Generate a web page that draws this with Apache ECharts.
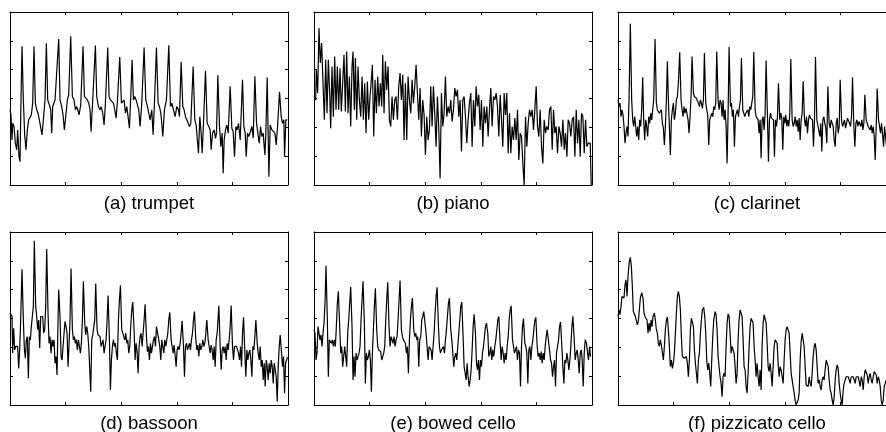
<!DOCTYPE html>
<html>
<head>
<meta charset="utf-8">
<script src="https://cdn.jsdelivr.net/npm/echarts@6/dist/echarts.min.js"></script>
<style>html,body{margin:0;padding:0;background:#fff}#c{width:886px;height:432px}</style>
</head>
<body>
<div id="c"></div>
<script>
// Panel titles
const titles = ['(a) trumpet', '(b) piano', '(c) clarinet', '(d) bassoon', '(e) bowed cello', '(f) pizzicato cello'];
// Axis ranges (frequency in Hz, level in dB) and tick intervals
const xRange = [0, 5000], xStep = 1000;
const yRange = [0, 60], yStep = 10;

// Spectra: [frequency, level]
const trumpet = [[0,26.1],[18,24.3],[36,15.6],[48,21.4],[72,20.3],[96,14.5],[120,12.2],[138,19.1],[162,9.8],[180,8.1],[198,29.5],[216,48.1],[240,29.5],[264,17.4],[288,12.2],[312,19.1],[336,22.6],[360,23.2],[384,24.3],[408,28.4],[432,48.1],[456,28.4],[480,26.1],[504,24.9],[528,22.6],[552,22.0],[576,17.4],[600,22.6],[630,29.5],[654,49.2],[678,29.5],[708,27.8],[732,26.1],[750,18.0],[768,27.2],[810,29.5],[840,30.1],[876,50.6],[900,29.5],[930,27.2],[954,24.3],[978,19.1],[1002,23.7],[1032,29.5],[1056,31.3],[1092,51.6],[1122,30.7],[1152,29.5],[1176,26.1],[1200,27.2],[1218,26.1],[1242,24.3],[1272,27.8],[1314,48.1],[1338,30.7],[1362,30.1],[1392,29.5],[1416,28.4],[1440,26.1],[1458,18.5],[1488,29.5],[1536,48.4],[1560,30.7],[1590,27.2],[1620,26.1],[1638,27.2],[1668,24.9],[1692,20.8],[1716,28.4],[1758,47.7],[1782,30.7],[1806,29.5],[1836,30.1],[1860,28.4],[1884,26.1],[1908,23.2],[1932,29.0],[1974,44.4],[2004,28.4],[2028,27.8],[2052,29.5],[2076,24.9],[2100,27.2],[2124,23.7],[2148,19.7],[2172,30.7],[2196,43.4],[2220,29.5],[2244,30.7],[2268,29.5],[2292,27.8],[2316,26.1],[2340,20.3],[2370,28.4],[2412,47.7],[2442,29.5],[2472,27.2],[2496,24.9],[2520,22.6],[2550,26.1],[2574,17.4],[2598,28.4],[2634,47.7],[2664,28.4],[2688,27.2],[2712,24.9],[2730,21.4],[2748,16.8],[2778,26.1],[2814,29.5],[2856,48.5],[2886,27.2],[2910,28.4],[2940,26.1],[2970,23.7],[3000,27.2],[3030,26.1],[3048,23.7],[3078,42.7],[3108,27.2],[3132,26.1],[3156,23.7],[3180,22.6],[3204,21.4],[3228,20.3],[3252,21.4],[3294,41.1],[3324,22.6],[3348,20.8],[3372,20.3],[3390,11.0],[3414,23.7],[3438,18.0],[3456,11.0],[3480,21.4],[3516,39.6],[3546,21.4],[3576,20.3],[3600,19.1],[3618,12.2],[3642,18.0],[3672,19.1],[3696,16.2],[3714,18.0],[3738,38.1],[3768,20.3],[3792,13.3],[3816,18.0],[3834,4.1],[3852,15.6],[3876,19.1],[3900,20.8],[3924,18.0],[3960,34.2],[3990,19.7],[4014,18.5],[4038,9.8],[4062,20.3],[4086,19.1],[4110,21.4],[4140,15.6],[4182,36.5],[4206,20.3],[4230,18.0],[4248,9.8],[4272,18.0],[4296,16.8],[4320,17.4],[4350,20.3],[4374,16.2],[4404,37.7],[4434,21.4],[4458,18.0],[4482,14.5],[4506,20.3],[4530,16.8],[4554,18.0],[4584,10.4],[4602,18.0],[4626,37.3],[4656,2.9],[4680,20.8],[4710,19.1],[4740,18.5],[4764,18.0],[4788,13.9],[4812,20.3],[4848,32.3],[4878,23.7],[4902,21.4],[4926,22.6],[4938,9.8],[4962,22.6],[4986,22.6]];

const piano = [[0,30.7],[30,29.5],[42,40.0],[66,31.9],[90,54.4],[114,42.3],[138,49.2],[162,35.3],[186,22.6],[210,43.4],[234,24.9],[258,43.4],[282,31.9],[300,19.7],[324,41.1],[348,23.7],[372,44.6],[396,26.1],[420,41.1],[444,26.1],[468,40.5],[492,25.5],[516,35.3],[540,45.2],[564,25.5],[588,46.3],[612,24.9],[636,37.6],[660,20.3],[684,41.1],[702,46.3],[726,26.1],[744,44.0],[768,22.6],[792,41.1],[816,29.5],[840,23.7],[864,37.6],[888,22.6],[912,35.3],[936,18.0],[960,35.9],[984,22.6],[1008,30.7],[1032,36.5],[1050,41.7],[1074,16.8],[1098,36.5],[1122,24.9],[1146,37.6],[1170,27.2],[1194,35.3],[1218,27.2],[1236,45.2],[1260,24.9],[1284,42.9],[1308,33.0],[1332,41.1],[1356,22.6],[1380,20.3],[1404,30.7],[1428,22.6],[1452,29.5],[1476,30.7],[1500,22.6],[1524,34.2],[1548,38.8],[1572,29.5],[1596,38.2],[1620,15.6],[1644,35.3],[1668,15.6],[1692,37.6],[1716,29.5],[1740,24.9],[1764,36.5],[1788,28.4],[1812,34.2],[1836,41.7],[1860,31.9],[1884,22.6],[1908,33.6],[1932,16.8],[1956,29.5],[1980,24.3],[2004,10.4],[2028,23.7],[2052,15.6],[2076,19.1],[2100,34.2],[2124,20.3],[2148,34.2],[2172,24.9],[2196,13.3],[2220,30.7],[2244,19.7],[2268,2.3],[2292,31.9],[2316,20.3],[2340,24.9],[2364,37.6],[2388,23.7],[2412,27.2],[2436,24.9],[2460,29.5],[2484,22.0],[2508,26.1],[2532,33.6],[2556,30.7],[2580,33.0],[2604,23.7],[2628,29.5],[2652,11.6],[2676,29.5],[2700,30.7],[2724,23.7],[2748,14.5],[2772,22.6],[2796,28.4],[2820,31.9],[2844,13.3],[2868,29.5],[2892,20.3],[2916,34.2],[2940,27.2],[2964,31.3],[2988,19.1],[3012,29.5],[3036,13.3],[3060,27.2],[3084,21.4],[3108,27.2],[3132,16.8],[3156,26.1],[3180,33.6],[3204,20.3],[3228,30.7],[3252,29.5],[3276,31.9],[3300,27.2],[3324,16.8],[3348,31.3],[3372,22.6],[3396,13.3],[3420,31.9],[3444,24.3],[3468,31.9],[3492,11.0],[3516,24.9],[3540,11.0],[3564,20.3],[3588,15.6],[3612,23.2],[3636,15.6],[3660,26.1],[3684,8.7],[3708,18.0],[3732,16.8],[3756,7.5],[3780,0],[3804,23.7],[3828,13.3],[3852,21.4],[3876,26.1],[3900,23.7],[3924,26.1],[3948,19.1],[3972,26.1],[3996,34.2],[4020,20.3],[4044,16.8],[4068,26.1],[4092,13.3],[4116,7.5],[4140,22.6],[4164,18.0],[4188,20.3],[4212,19.1],[4236,26.1],[4260,27.2],[4284,12.2],[4308,26.1],[4332,18.0],[4356,20.3],[4380,11.0],[4404,20.3],[4428,18.0],[4452,13.3],[4476,22.6],[4500,12.2],[4524,18.0],[4548,9.8],[4572,22.6],[4596,21.4],[4620,16.8],[4644,22.6],[4668,23.7],[4692,9.8],[4716,26.1],[4740,14.5],[4764,22.6],[4788,9.8],[4812,24.9],[4836,23.7],[4860,11.0],[4884,22.6],[4908,13.3],[4932,14.5],[4968,14.5],[4986,0]];

const clarinet = [[0,29.5],[18,27.2],[36,28.4],[54,23.7],[72,26.1],[90,24.3],[108,20.3],[126,14.5],[144,18.0],[162,20.3],[180,16.8],[198,29.5],[222,55.9],[246,29.5],[264,22.6],[282,20.3],[300,23.7],[318,20.3],[336,16.8],[354,20.3],[372,15.6],[390,22.6],[408,20.3],[426,26.1],[444,37.4],[462,22.6],[480,15.6],[498,22.6],[516,20.3],[534,16.8],[552,23.7],[570,21.4],[588,24.9],[606,22.6],[624,26.1],[642,29.5],[666,50.6],[690,28.4],[708,26.1],[726,26.6],[744,24.9],[762,24.3],[780,26.1],[798,21.4],[816,19.7],[834,13.9],[852,20.3],[870,29.5],[888,42.9],[906,29.5],[924,20.3],[942,10.4],[960,22.6],[978,26.1],[996,28.4],[1014,22.6],[1032,24.9],[1050,29.5],[1068,30.7],[1086,35.3],[1110,46.0],[1134,29.5],[1152,26.1],[1170,23.7],[1188,27.2],[1206,24.9],[1224,26.6],[1242,26.1],[1260,22.6],[1278,18.0],[1296,23.7],[1314,30.7],[1332,44.6],[1356,31.9],[1374,30.7],[1392,31.3],[1410,30.1],[1428,30.7],[1446,28.4],[1464,27.2],[1482,29.5],[1500,28.4],[1518,26.6],[1536,29.5],[1554,45.8],[1578,28.4],[1596,26.1],[1614,24.3],[1632,13.9],[1650,22.6],[1668,23.7],[1686,24.9],[1704,23.7],[1722,27.2],[1740,26.1],[1758,28.4],[1776,46.3],[1800,29.5],[1818,26.1],[1836,29.5],[1854,28.4],[1872,23.7],[1890,29.5],[1908,22.6],[1926,26.1],[1944,20.3],[1962,7.5],[1980,24.9],[1998,47.9],[2022,27.2],[2040,28.4],[2058,23.7],[2076,26.1],[2094,13.3],[2112,23.7],[2130,24.9],[2148,26.1],[2166,23.7],[2184,27.2],[2202,29.5],[2220,44.0],[2244,26.1],[2262,24.9],[2280,23.7],[2298,24.9],[2316,24.3],[2334,26.1],[2352,23.7],[2370,27.2],[2388,26.1],[2406,28.4],[2424,30.7],[2442,46.1],[2466,26.1],[2484,23.7],[2502,24.3],[2520,22.6],[2538,18.0],[2556,22.6],[2574,9.3],[2592,22.6],[2610,23.7],[2628,19.1],[2646,24.9],[2664,43.2],[2688,23.7],[2706,8.1],[2724,22.6],[2742,24.9],[2760,23.2],[2778,23.7],[2796,22.6],[2814,9.8],[2832,22.6],[2850,20.3],[2868,23.7],[2886,35.3],[2910,22.6],[2928,24.9],[2946,23.2],[2964,12.2],[2982,23.7],[3000,21.4],[3018,24.3],[3036,20.3],[3054,22.6],[3072,20.3],[3090,24.9],[3108,43.7],[3132,22.6],[3150,20.3],[3168,21.4],[3186,23.7],[3204,20.3],[3222,22.6],[3240,18.5],[3258,23.2],[3276,15.6],[3294,22.6],[3312,24.9],[3330,36.0],[3354,22.6],[3372,20.3],[3390,23.7],[3408,18.0],[3426,22.6],[3444,24.3],[3462,23.2],[3480,23.7],[3498,22.6],[3516,13.3],[3534,22.6],[3552,44.4],[3576,22.6],[3594,20.8],[3612,20.3],[3630,16.8],[3648,21.4],[3666,11.6],[3684,22.6],[3702,23.7],[3720,21.4],[3738,19.7],[3756,14.5],[3774,34.2],[3798,21.4],[3816,19.7],[3834,22.6],[3852,21.4],[3870,20.3],[3888,15.6],[3906,13.3],[3924,21.4],[3942,23.2],[3960,18.0],[3978,20.3],[3996,36.5],[4020,22.6],[4038,20.3],[4056,21.4],[4074,22.6],[4092,19.7],[4110,21.4],[4128,23.2],[4146,22.6],[4164,21.4],[4182,20.3],[4200,23.7],[4218,37.4],[4242,20.3],[4260,13.3],[4278,21.4],[4296,22.6],[4314,20.3],[4332,22.0],[4350,21.4],[4368,20.3],[4386,22.6],[4404,19.1],[4422,21.4],[4440,31.3],[4464,22.6],[4482,21.4],[4500,20.3],[4518,20.8],[4536,19.1],[4554,20.8],[4572,18.0],[4590,20.3],[4608,16.8],[4626,8.7],[4644,20.3],[4662,33.5],[4686,22.6],[4704,20.3],[4722,18.0],[4740,21.4],[4758,20.8],[4776,13.3],[4794,20.3],[4812,20.3],[4830,13.3]];

const bassoon = [[0,31.9],[18,32.1],[36,30.7],[48,18.0],[66,26.6],[84,19.1],[102,20.3],[120,20.8],[138,20.3],[156,12.7],[174,19.1],[192,29.5],[216,47.1],[240,29.5],[258,19.7],[276,16.2],[294,22.6],[312,23.7],[330,9.3],[348,23.7],[366,22.6],[384,27.2],[402,27.8],[420,34.2],[438,57.0],[462,34.2],[480,30.7],[498,26.1],[516,29.5],[534,19.7],[552,30.7],[570,30.1],[588,30.7],[606,24.9],[624,26.1],[642,34.2],[660,54.1],[684,31.9],[702,21.4],[720,23.7],[738,18.0],[756,22.6],[774,20.3],[792,22.6],[810,14.5],[828,16.8],[846,10.4],[864,29.5],[876,40.0],[900,30.7],[918,16.8],[936,15.6],[954,20.3],[972,24.9],[990,29.0],[1008,27.2],[1026,24.9],[1044,13.3],[1062,21.4],[1080,29.5],[1098,47.3],[1122,26.1],[1140,22.6],[1158,23.7],[1176,21.4],[1194,22.6],[1212,19.1],[1230,22.6],[1248,20.3],[1266,18.0],[1284,21.4],[1302,29.5],[1320,42.9],[1344,28.4],[1362,24.3],[1380,27.2],[1398,24.9],[1416,20.3],[1434,20.8],[1452,4.6],[1470,22.6],[1488,24.3],[1506,24.9],[1524,29.5],[1542,42.1],[1566,26.1],[1584,24.3],[1602,24.9],[1620,23.7],[1638,20.3],[1656,21.4],[1674,22.6],[1692,18.0],[1710,20.3],[1728,22.6],[1746,29.5],[1764,38.0],[1788,22.6],[1806,5.2],[1824,15.6],[1842,20.3],[1860,22.6],[1878,20.3],[1896,21.4],[1914,18.0],[1932,15.6],[1950,29.5],[1968,36.5],[1986,41.5],[2010,26.1],[2028,24.9],[2046,23.7],[2064,22.6],[2082,24.9],[2100,21.4],[2118,22.6],[2136,18.0],[2154,20.3],[2172,27.2],[2190,33.0],[2208,35.7],[2232,26.1],[2250,15.6],[2268,21.4],[2286,18.5],[2304,11.0],[2322,20.3],[2340,23.7],[2358,24.9],[2376,20.3],[2394,24.9],[2412,29.5],[2430,34.9],[2454,23.7],[2472,18.5],[2490,20.3],[2508,15.6],[2526,21.4],[2544,18.0],[2562,20.3],[2580,22.6],[2598,23.7],[2616,20.3],[2634,27.2],[2652,27.5],[2676,22.6],[2694,20.3],[2712,15.6],[2730,22.6],[2748,20.3],[2766,18.0],[2784,22.6],[2802,20.3],[2820,20.8],[2838,24.9],[2856,29.5],[2874,32.1],[2898,22.6],[2916,20.3],[2934,18.0],[2952,20.8],[2970,20.3],[2988,13.3],[3006,19.1],[3024,20.3],[3042,19.1],[3060,21.4],[3078,24.9],[3096,29.2],[3120,20.3],[3138,9.8],[3156,20.3],[3174,21.4],[3192,19.1],[3210,20.3],[3228,21.4],[3246,19.1],[3264,22.6],[3282,24.9],[3300,29.5],[3318,32.4],[3342,22.6],[3360,19.1],[3378,20.8],[3396,16.8],[3414,21.4],[3432,19.1],[3450,20.3],[3468,22.6],[3486,20.3],[3504,21.4],[3522,24.9],[3540,29.5],[3564,22.6],[3582,20.3],[3600,18.0],[3618,20.8],[3636,19.1],[3654,15.6],[3672,20.3],[3690,13.3],[3708,22.6],[3726,24.9],[3756,34.4],[3780,20.3],[3798,12.2],[3816,19.1],[3834,20.3],[3852,18.0],[3870,20.3],[3888,15.6],[3906,21.4],[3924,19.1],[3942,22.6],[3960,27.2],[3978,34.5],[4002,20.3],[4020,15.6],[4038,20.3],[4056,20.8],[4074,20.3],[4092,19.1],[4110,18.0],[4128,15.6],[4146,20.3],[4164,13.3],[4182,24.9],[4200,30.4],[4224,18.0],[4242,9.8],[4260,19.1],[4278,15.6],[4296,18.0],[4314,19.1],[4332,15.6],[4350,9.8],[4368,20.3],[4386,19.1],[4404,23.7],[4422,29.5],[4446,21.4],[4464,18.0],[4482,15.6],[4500,20.3],[4518,13.3],[4536,15.6],[4554,8.7],[4572,14.5],[4590,6.4],[4608,15.6],[4626,13.3],[4644,8.7],[4662,14.5],[4680,11.0],[4698,15.6],[4716,13.3],[4734,7.5],[4752,14.5],[4770,12.2],[4788,9.8],[4806,1.2],[4824,13.3],[4842,20.3],[4860,24.3],[4884,18.0],[4902,13.3],[4920,16.8],[4938,4.1],[4956,14.5],[4974,15.6],[4992,16.6]];

const bowedCello = [[0,26.1],[18,24.9],[36,15.6],[54,18.0],[72,27.2],[90,24.9],[108,22.6],[126,24.3],[144,20.3],[162,24.9],[180,28.4],[198,35.3],[216,48.3],[240,29.5],[258,9.8],[276,22.6],[294,22.6],[312,21.4],[330,22.6],[348,20.3],[366,22.6],[384,20.3],[402,27.2],[420,35.3],[438,39.4],[462,27.2],[480,18.0],[498,20.3],[516,13.3],[534,16.8],[552,20.3],[570,20.8],[588,13.3],[606,24.9],[624,29.5],[642,35.3],[660,40.9],[684,27.2],[702,8.7],[720,16.8],[738,9.8],[756,18.0],[774,15.6],[792,16.8],[810,18.0],[828,20.3],[846,29.5],[864,36.5],[882,42.9],[906,28.4],[924,7.5],[942,18.0],[960,15.6],[978,16.8],[996,19.1],[1014,15.6],[1032,4.6],[1050,18.0],[1068,26.1],[1086,34.2],[1104,40.5],[1128,26.1],[1146,20.3],[1164,19.1],[1182,19.7],[1200,18.5],[1218,15.6],[1236,16.8],[1254,18.0],[1272,20.3],[1290,29.5],[1308,36.5],[1326,42.6],[1350,27.2],[1368,20.3],[1386,23.7],[1404,22.6],[1422,21.4],[1440,23.7],[1458,20.3],[1476,22.6],[1494,23.7],[1512,29.5],[1530,36.5],[1548,43.2],[1572,26.1],[1590,23.7],[1608,22.6],[1626,22.0],[1644,21.4],[1662,18.0],[1680,20.3],[1698,11.0],[1716,22.6],[1734,29.5],[1752,34.2],[1770,37.1],[1794,26.1],[1812,23.7],[1830,24.9],[1848,22.6],[1866,23.7],[1884,13.3],[1902,22.6],[1920,23.7],[1938,29.5],[1956,30.7],[1974,32.4],[1992,33.0],[2016,24.9],[2034,20.3],[2052,15.6],[2070,20.3],[2088,19.7],[2106,19.1],[2124,15.6],[2142,20.3],[2160,24.9],[2178,31.9],[2196,37.6],[2214,40.8],[2238,27.2],[2256,20.3],[2274,18.0],[2292,19.1],[2310,18.5],[2328,20.3],[2346,18.0],[2364,22.6],[2382,26.1],[2400,30.7],[2418,35.3],[2436,37.0],[2460,26.1],[2478,22.6],[2496,18.0],[2514,13.3],[2532,16.8],[2550,18.0],[2568,15.6],[2586,20.3],[2604,24.9],[2622,29.5],[2640,34.2],[2658,35.7],[2682,23.7],[2700,13.3],[2718,11.0],[2736,8.7],[2754,14.5],[2772,9.8],[2790,6.4],[2808,8.7],[2826,12.2],[2844,19.1],[2862,27.2],[2880,31.5],[2904,24.9],[2922,14.5],[2940,12.2],[2958,15.6],[2976,8.7],[2994,15.6],[3012,13.3],[3030,18.0],[3048,20.3],[3066,23.7],[3084,27.2],[3102,28.4],[3126,24.9],[3144,16.8],[3162,18.0],[3180,20.3],[3198,15.6],[3216,19.1],[3234,16.8],[3252,20.3],[3270,22.6],[3288,26.1],[3306,29.5],[3324,30.7],[3348,21.4],[3366,15.6],[3384,20.3],[3402,18.0],[3420,14.5],[3438,18.0],[3456,15.6],[3474,20.3],[3492,23.7],[3510,29.5],[3528,33.0],[3546,34.4],[3570,22.6],[3588,20.3],[3606,18.0],[3624,19.1],[3642,20.3],[3660,15.6],[3678,19.1],[3696,18.0],[3714,6.4],[3732,20.3],[3750,27.2],[3768,30.0],[3792,21.4],[3810,20.3],[3828,18.0],[3846,7.5],[3864,19.1],[3882,20.3],[3900,15.6],[3918,20.3],[3936,22.6],[3954,26.1],[3972,29.5],[3990,30.4],[4014,20.3],[4032,16.8],[4050,18.0],[4068,15.6],[4086,18.5],[4104,14.5],[4122,18.0],[4140,15.6],[4158,20.3],[4176,23.7],[4194,26.1],[4212,26.6],[4236,19.1],[4254,15.6],[4272,14.5],[4290,9.8],[4308,13.3],[4326,15.6],[4344,6.4],[4362,18.0],[4380,20.3],[4398,22.6],[4416,27.2],[4434,28.8],[4458,20.3],[4476,13.3],[4494,7.5],[4512,15.6],[4530,14.5],[4548,18.0],[4566,15.6],[4584,12.2],[4602,15.6],[4620,20.3],[4638,27.2],[4656,30.8],[4680,22.6],[4698,15.6],[4716,18.0],[4734,19.1],[4752,15.6],[4770,11.0],[4788,18.0],[4806,19.1],[4824,15.6],[4842,6.4],[4860,18.0],[4878,22.6],[4902,21.4],[4920,18.0],[4938,15.6],[4956,20.3],[4974,16.8]];

const pizzicatoCello = [[0,30.7],[18,33.0],[36,31.3],[54,34.2],[72,37.6],[90,38.2],[108,37.1],[126,41.7],[144,43.4],[162,37.6],[180,44.6],[204,49.8],[222,51.2],[240,48.1],[258,41.1],[276,32.4],[294,31.9],[312,30.7],[330,30.1],[348,27.8],[366,29.0],[384,33.0],[402,37.1],[426,39.0],[450,37.1],[468,31.9],[486,30.7],[504,31.3],[522,29.5],[540,24.9],[558,28.4],[576,25.5],[594,29.5],[612,27.2],[630,30.7],[654,31.9],[672,29.5],[690,26.1],[708,24.9],[726,21.4],[744,20.3],[762,22.6],[780,20.8],[798,20.3],[816,15.6],[834,20.3],[852,26.1],[870,29.5],[888,30.5],[906,26.1],[924,20.3],[942,13.3],[960,15.6],[978,12.7],[996,14.5],[1014,18.0],[1032,24.9],[1050,31.9],[1068,37.6],[1086,39.4],[1104,37.6],[1122,33.0],[1140,23.7],[1158,16.8],[1176,16.8],[1194,16.2],[1212,15.6],[1230,16.8],[1248,14.5],[1266,9.8],[1284,15.6],[1302,26.1],[1320,30.1],[1338,30.7],[1356,27.2],[1374,19.1],[1392,14.5],[1410,15.1],[1428,7.5],[1446,15.6],[1464,18.0],[1482,24.9],[1500,29.5],[1518,33.0],[1542,33.9],[1560,30.7],[1578,24.9],[1596,15.6],[1614,12.2],[1632,14.5],[1650,11.0],[1668,6.4],[1686,15.6],[1704,23.7],[1722,29.5],[1746,32.4],[1764,31.3],[1782,26.1],[1800,16.8],[1818,13.3],[1836,9.8],[1854,7.5],[1872,2.9],[1890,9.8],[1908,11.0],[1926,9.8],[1944,20.3],[1962,28.4],[1980,31.6],[1998,30.7],[2016,24.9],[2034,18.0],[2052,20.3],[2070,20.8],[2088,18.0],[2106,13.3],[2124,7.5],[2142,11.0],[2160,22.6],[2178,29.5],[2196,33.0],[2214,33.6],[2232,30.7],[2250,22.6],[2268,13.3],[2286,12.2],[2304,6.4],[2322,4.1],[2340,11.0],[2358,20.3],[2376,27.2],[2394,30.1],[2412,30.7],[2430,28.4],[2448,20.3],[2466,15.6],[2484,9.8],[2502,14.5],[2520,9.8],[2538,6.4],[2556,12.2],[2574,5.2],[2592,20.3],[2610,28.4],[2628,31.3],[2646,31.9],[2664,28.4],[2682,21.4],[2700,13.3],[2718,11.6],[2736,14.5],[2754,11.0],[2772,6.4],[2790,13.3],[2808,20.3],[2826,22.6],[2844,23.1],[2862,21.4],[2880,14.5],[2898,9.8],[2916,13.3],[2934,12.2],[2952,9.8],[2970,7.5],[2988,15.6],[3006,22.6],[3024,26.1],[3042,27.2],[3060,27.5],[3078,24.9],[3096,18.0],[3114,11.0],[3132,8.7],[3150,6.4],[3168,4.1],[3186,1.7],[3204,0],[3222,0.6],[3240,1.7],[3258,4.1],[3276,15.6],[3294,22.0],[3312,24.9],[3330,24.3],[3348,20.3],[3366,13.3],[3384,6.9],[3402,7.5],[3420,6.4],[3438,9.8],[3456,7.5],[3474,6.4],[3492,11.0],[3510,16.8],[3528,20.3],[3546,21.4],[3564,19.1],[3582,13.3],[3600,7.5],[3618,8.7],[3636,6.4],[3654,5.2],[3672,8.7],[3690,9.8],[3708,8.7],[3726,12.2],[3744,15.6],[3762,16.0],[3780,13.3],[3798,8.7],[3816,5.2],[3834,4.1],[3852,1.7],[3870,0],[3888,2.9],[3906,8.7],[3924,12.2],[3942,13.9],[3960,12.7],[3978,7.5],[3996,4.1],[4014,1.7],[4032,0],[4050,5.2],[4068,7.5],[4086,8.7],[4104,9.8],[4122,10.4],[4140,9.8],[4158,8.7],[4176,7.5],[4194,9.8],[4212,10.4],[4230,9.8],[4248,8.7],[4266,7.5],[4284,9.8],[4302,10.4],[4320,9.8],[4338,8.1],[4356,6.4],[4374,9.8],[4392,8.7],[4410,5.2],[4428,9.8],[4446,12.2],[4464,12.7],[4482,10.4],[4500,7.5],[4518,9.8],[4536,11.0],[4554,8.7],[4572,7.5],[4590,9.8],[4608,11.6],[4626,12.2],[4644,10.4],[4662,7.5],[4680,9.8],[4698,8.7],[4716,6.4],[4734,1.7],[4752,0],[4770,1.7],[4788,6.4],[4806,7.5],[4824,8.7]];

const spectra = [trumpet, piano, clarinet, bassoon, bowedCello, pizzicatoCello];

const chart = echarts.init(document.getElementById('c'), null, {renderer: 'canvas'});
const lefts = [10, 314, 618];
const tops = [12, 232];
const W = 278, H = 173;

const grids = [], xAxes = [], yAxes = [], series = [], graphics = [];
const tickStyle = {show: true, inside: true, length: 3, lineStyle: {color: '#000', width: 1}};
const lineStyle = {show: true, lineStyle: {color: '#000', width: 1}, onZero: false};
spectra.forEach((d, i) => {
  const col = i % 3, row = Math.floor(i / 3);
  grids.push({left: lefts[col], top: tops[row], width: W, height: H, containLabel: false, outerBoundsMode: 'none'});
  ['bottom', 'top'].forEach(pos => xAxes.push({
    gridIndex: i, type: 'value', position: pos, min: xRange[0], max: xRange[1], interval: xStep,
    axisLine: lineStyle, axisTick: tickStyle, axisLabel: {show: false}, splitLine: {show: false}
  }));
  ['left', 'right'].forEach(pos => yAxes.push({
    gridIndex: i, type: 'value', position: pos, min: yRange[0], max: yRange[1], interval: yStep,
    axisLine: lineStyle, axisTick: tickStyle, axisLabel: {show: false}, splitLine: {show: false}
  }));
  series.push({
    type: 'line', xAxisIndex: i * 2, yAxisIndex: i * 2, data: d,
    showSymbol: false, symbol: 'none', clip: true,
    lineStyle: {color: '#000', width: 1.2}, animation: false
  });
  graphics.push({
    type: 'text', x: lefts[col] + W / 2, y: tops[row] + H + 19,
    style: {text: titles[i], fill: '#000', font: '18.5px "Liberation Sans", Arial, sans-serif', textAlign: 'center', textVerticalAlign: 'middle'}
  });
});

chart.setOption({
  animation: false,
  grid: grids, xAxis: xAxes, yAxis: yAxes, series: series, graphic: graphics
});
</script>
</body>
</html>
